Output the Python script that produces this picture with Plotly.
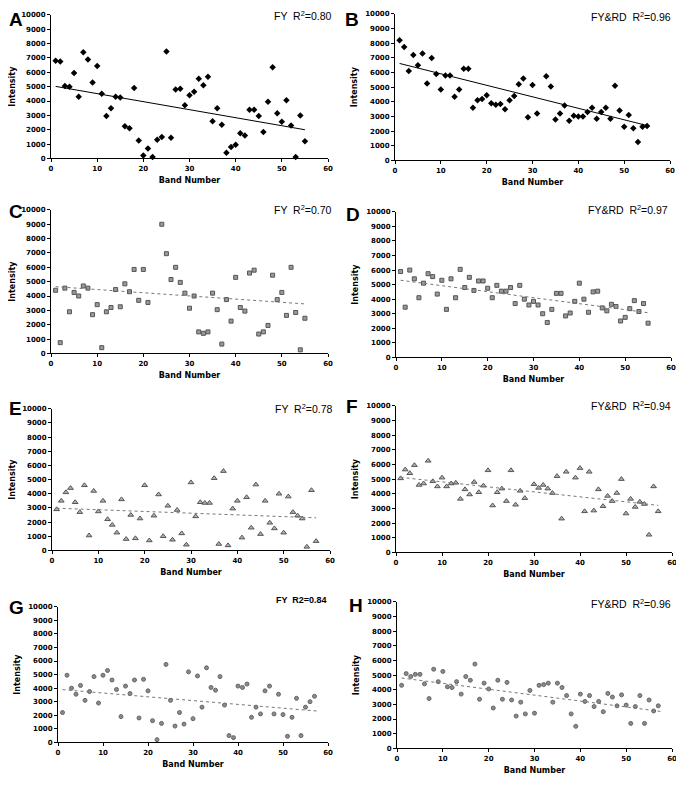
import plotly.graph_objects as go

# ---------------- data ----------------
band_A = list(range(1, 56))
int_A = [6800, 6750, 5050, 5000, 5950, 4300, 7400, 6900, 5300, 6450, 4500, 2950, 3500, 4300, 4250,
         2250, 2100, 4900, 1250, 200, 700, 100, 1300, 1500, 7450, 1450, 4800, 4850, 3700, 4400,
         4650, 5550, 5100, 5700, 2600, 3500, 2350, 400, 800, 950, 1750, 1600, 3400, 3400, 2950,
         1850, 3950, 6350, 3150, 2550, 4050, 2300, 100, 3000, 1200]

band_B = [b for b in range(1, 56) if b != 32]
int_B = [8200, 7750, 6100, 7200, 6500, 7300, 5250, 7000, 5900, 4850, 5800, 5800, 4350, 4850, 6250,
         6250, 3600, 4100, 4200, 4450, 3900, 3800, 3850, 3500, 4100, 4400, 5200, 5600, 2950, 5150,
         3200, 5750, 5050, 2800, 3200, 3750, 2700, 3050, 3000, 3000, 3300, 3600, 2850, 3300,
         3600, 2850, 5100, 3400, 2300, 3100, 2200, 1250, 2300, 2350]

band_C = [b for b in range(1, 56) if b not in (22, 23)]
int_C = [4400, 750, 4550, 2900, 4250, 4000, 4700, 4550, 2700, 3400, 400, 2900, 3200, 4450, 3250,
         4850, 4300, 5850, 3700, 5850, 3550, 9000, 6950, 5150, 6000, 4950, 4200, 3150, 4000,
         1500, 1400, 1500, 4200, 3050, 650, 3750, 2250, 5300, 3200, 2950, 5600, 5800, 1350, 1500,
         1950, 5450, 3750, 4250, 2650, 6000, 2850, 250, 2450]

band_D = list(range(1, 56))
int_D = [5900, 3450, 6000, 5400, 4100, 5100, 5750, 5550, 4350, 5300, 3300, 5400, 4100, 6050, 4800,
         5500, 4600, 5250, 5250, 4750, 4100, 4950, 4550, 4550, 4800, 3700, 4950, 4000, 3600, 3850,
         3600, 3000, 2400, 3300, 4400, 4400, 2850, 3050, 3850, 5100, 4000, 3100, 4500, 4550, 3400,
         3200, 3650, 3500, 2500, 2750, 3350, 3900, 3150, 3700, 2350]

band_E = list(range(1, 58))
int_E = [2900, 3500, 4100, 4400, 3400, 2700, 4600, 1050, 4200, 2750, 3500, 2200, 1800, 1250, 3600,
         800, 2500, 850, 2250, 4600, 700, 2450, 3950, 1000, 3150, 750, 2850, 1200, 400, 4800,
         2400, 3400, 3350, 3350, 5100, 450, 5600, 350, 2950, 3500, 900, 3750, 1600, 4650, 1150,
         3500, 1950, 1550, 4000, 1250, 3800, 2700, 2450, 2250, 250, 4250, 650]

band_F = [b for b in range(1, 58) if b not in (29, 38)]
int_F = [5050, 5650, 5400, 5950, 4600, 4700, 6250, 4850, 4500, 5100, 4500, 4700, 4750, 3650, 4300,
         3950, 4800, 4100, 4550, 5600, 3200, 4100, 4350, 3500, 5600, 3250, 4200, 3700, 4650,
         4400, 4600, 4350, 4050, 5200, 2300, 5500, 5100, 5750, 2800, 5500, 2850, 4300, 3150,
         3850, 3500, 4050, 5000, 2650, 3650, 3100, 3450, 3300, 1200, 4500, 2800]

band_G = list(range(1, 58))
int_G = [2200, 4950, 4000, 3550, 4200, 3100, 3750, 4850, 2900, 4950, 5300, 4600, 3900, 1900, 4150,
         3600, 4600, 1800, 4650, 3800, 1600, 200, 1400, 5750, 3100, 1200, 2200, 1350, 5200, 1750,
         4900, 2600, 5500, 4050, 3850, 4850, 2750, 500, 350, 4150, 4050, 4300, 1850, 2600, 2100,
         3800, 4150, 2100, 3550, 2050, 450, 1850, 3250, 500, 2600, 3000, 3400]

band_H = list(range(1, 58))
int_H = [4300, 5100, 4900, 5050, 5050, 4400, 3400, 5400, 4550, 5250, 4200, 4150, 4550, 3700, 4900,
         4650, 5750, 3350, 4450, 4050, 2750, 4650, 3350, 4500, 3300, 2200, 3150, 2350, 3950, 2400,
         4300, 4350, 4450, 3150, 4450, 4150, 3600, 2350, 1500, 3700, 3200, 3600, 2850, 3200, 2500,
         3750, 3500, 2900, 3650, 2950, 1700, 2850, 3600, 1700, 3300, 2550, 2900]

# trend lines as drawn in the figure: (band start, band end) and (intensity start, intensity end)
trend_band = [(1, 55), (1, 55), (1, 55), (1, 55), (1, 57), (1, 57), (1, 58), (1, 58)]
trend_int = [(5020, 2000), (6620, 2380), (4650, 3450), (5300, 3070),
             (2980, 2300), (5120, 3210), (3890, 2300), (4800, 2500)]

panel_letters = ["A", "B", "C", "D", "E", "F", "G", "H"]
panel_labels = ["FY  R<sup>2</sup>=0.80", "FY&RD  R<sup>2</sup>=0.96",
                "FY  R<sup>2</sup>=0.70", "FY&RD  R<sup>2</sup>=0.97",
                "FY  R<sup>2</sup>=0.78", "FY&RD  R<sup>2</sup>=0.94",
                "FY  R2=0.84", "FY&RD  R<sup>2</sup>=0.96"]
bands = [band_A, band_B, band_C, band_D, band_E, band_F, band_G, band_H]
intensities = [int_A, int_B, int_C, int_D, int_E, int_F, int_G, int_H]

x_ticks = [0, 10, 20, 30, 40, 50, 60]
y_ticks = list(range(0, 10001, 1000))
y_ticktext = [str(v) for v in y_ticks]

# ---------------- layout ----------------
# the page body has an 8px default margin; keep the page from overflowing the window
OFF = 8
W, H = 684 - OFF, 787 - 2 * OFF
YSPAN = 787 - OFF  # reference vertical span, squeezed slightly into H

def px_x(v):
    return max(0.0, (v - OFF) / W)

def px_y(v):
    return min(1.0, 1 - (v - OFF) / YSPAN)

# (x0, x1, yTop, yBottom) of each plot area, reference pixels
boxes = [
    (51, 328, 15, 160), (395, 670, 14, 162),
    (51, 328, 212, 357), (396, 671, 214, 361),
    (52, 330, 413, 556), (396, 672, 410, 558),
    (58, 328, 613, 750), (397, 672, 608, 756),
]
letter_pos = [(3, 9), (345, 9), (3, 205), (346, 208), (4, 404), (346, 402), (3, 605), (349, 603)]
label_pos = [(332, 16), (672, 17), (332, 212), (669, 212), (333, 413), (672, 410),
             (328, 606), (672, 610)]

marker_styles = [
    dict(symbol="diamond", size=5, color="black", line=dict(width=0)),
    dict(symbol="diamond", size=5, color="black", line=dict(width=0)),
    dict(symbol="square", size=4, color="#9a9a9a", line=dict(width=1, color="#555")),
    dict(symbol="square", size=4, color="#9a9a9a", line=dict(width=1, color="#555")),
    dict(symbol="triangle-up", size=5, color="#b0b0b0", line=dict(width=1, color="#555")),
    dict(symbol="triangle-up", size=5, color="#b0b0b0", line=dict(width=1, color="#555")),
    dict(symbol="circle", size=4, color="#8a8a8a", line=dict(width=1, color="#666")),
    dict(symbol="circle", size=4, color="#8a8a8a", line=dict(width=1, color="#666")),
]
line_styles = [
    dict(color="black", width=1, dash="solid"),
    dict(color="black", width=1, dash="solid"),
] + [dict(color="#777", width=1, dash="dot")] * 6

FONT = "DejaVu Sans, Verdana, sans-serif"
LFONT = "Liberation Sans, Arial, sans-serif"
fig = go.Figure()
tickfont = dict(family=FONT, size=7, color="black", weight="bold")
titlefont = dict(family=FONT, size=8, color="black", weight="bold")
annotations = []

for i in range(8):
    x0, x1, yt, yb = boxes[i]
    ax = "" if i == 0 else str(i + 1)
    xd = [px_x(x0), px_x(x1)]
    yd = [px_y(yb), px_y(yt)]
    fig.add_trace(go.Scatter(x=bands[i], y=intensities[i], mode="markers",
                             marker=marker_styles[i],
                             xaxis="x" + ax, yaxis="y" + ax, cliponaxis=False,
                             showlegend=False, hoverinfo="x+y"))
    fig.add_trace(go.Scatter(x=list(trend_band[i]), y=list(trend_int[i]), mode="lines",
                             line=line_styles[i],
                             xaxis="x" + ax, yaxis="y" + ax, showlegend=False,
                             hoverinfo="skip"))
    fig.update_layout(**{
        "xaxis" + ax: dict(domain=xd, range=[0, 60], tickvals=x_ticks, anchor="y" + ax,
                           automargin=False,
                           showgrid=False, zeroline=False, showline=True, linecolor="black",
                           linewidth=1, ticks="outside", ticklen=3, tickcolor="black",
                           tickfont=tickfont,
                           title=dict(text="Band Number", standoff=5, font=titlefont)),
        "yaxis" + ax: dict(domain=yd, range=[0, 10000], tickvals=y_ticks,
                           ticktext=y_ticktext, anchor="x" + ax, automargin=False,
                           showgrid=False, zeroline=False, showline=True, linecolor="black",
                           linewidth=1, ticks="outside", ticklen=3, tickcolor="black",
                           tickfont=tickfont,
                           title=dict(text="Intensity", standoff=6, font=titlefont)),
    })
    lx, ly = letter_pos[i]
    annotations.append(dict(text=panel_letters[i], xref="paper", yref="paper",
                            x=px_x(lx - 1), y=px_y(ly - 3), xanchor="left", yanchor="top",
                            showarrow=False, borderpad=0,
                            font=dict(family=LFONT, size=19, color="black", weight="bold")))
    rx, ry = label_pos[i]
    annotations.append(dict(text=panel_labels[i], xref="paper", yref="paper",
                            x=px_x(rx), y=px_y(ry), xanchor="right", yanchor="middle",
                            showarrow=False, borderpad=0,
                            font=dict(family=LFONT, size=9 if i == 6 else 10.5,
                                      color="black",
                                      weight="bold" if i == 6 else "normal")))

fig.update_layout(width=W, height=H, margin=dict(l=0, r=0, t=0, b=0, autoexpand=False),
                  paper_bgcolor="white", plot_bgcolor="white",
                  annotations=annotations)
fig.write_html("out.html")
